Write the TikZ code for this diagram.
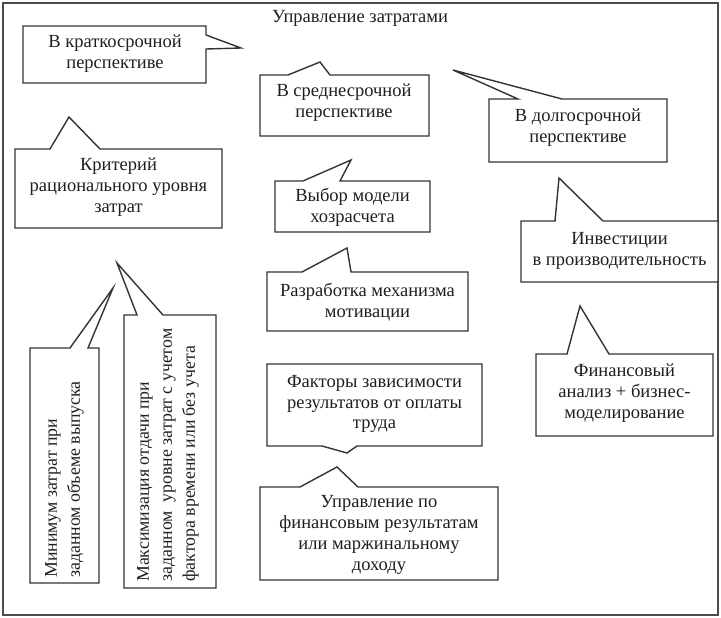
\documentclass[tikz,border=0pt]{standalone}
\usepackage{fontspec}
\setmainfont{Liberation Serif}
\begin{document}
\begin{tikzpicture}[x=1pt,y=-1pt,
  shp/.style={draw=black!80,line width=1.4pt,line join=miter,fill=white},
  txt/.style={text=black!88,align=center,inner sep=0pt,font=\fontsize{18.5}{20.8}\selectfont},
  vtxt/.style={text=black!88,align=left,inner sep=0pt,rotate=90,anchor=west,font=\fontsize{17.8}{23}\selectfont}]
\useasboundingbox (0,0) rectangle (721,618);
\fill[white] (0,0) rectangle (721,618);
\draw[black!70,line width=1.6pt] (3,3) rectangle (718,615);

\node[txt] (title) at (360,18) {Управление затратами};

% callout outlines
\draw[shp] (23,26) -- (206,26) -- (206,35) -- (241,48) -- (206,49) -- (206,83) -- (23,83) -- cycle;
\draw[shp] (260,75) -- (288,75) -- (320,62) -- (330,75) -- (429,75) -- (429,136) -- (260,136) -- cycle;
\draw[shp] (489,99) -- (518,99) -- (453,70) -- (562,99) -- (667,99) -- (667,162) -- (489,162) -- cycle;
\draw[shp] (15,149) -- (50,149) -- (69,117) -- (100,149) -- (222,149) -- (222,228) -- (15,228) -- cycle;
\draw[shp] (275,181) -- (303,181) -- (351,160) -- (340,181) -- (430,181) -- (430,232) -- (275,232) -- cycle;
\draw[shp] (267,272) -- (302,272) -- (347,248) -- (351,272) -- (468,272) -- (468,331) -- (267,331) -- cycle;
\draw[shp] (267,364) -- (482,364) -- (482,446) -- (357,446) -- (347,453) -- (322,446) -- (267,446) -- cycle;
\draw[shp] (260,487) -- (300,487) -- (337,467) -- (358,487) -- (498,487) -- (498,580) -- (260,580) -- cycle;
\draw[shp] (521,221) -- (555,221) -- (559,178) -- (603,221) -- (718,221) -- (718,282) -- (521,282) -- cycle;
\draw[shp] (536,354) -- (567,354) -- (580,306) -- (609,354) -- (713,354) -- (713,436) -- (536,436) -- cycle;
\draw[shp] (30,348) -- (70,348) -- (113,288) -- (88,348) -- (99,348) -- (99,583) -- (30,583) -- cycle;
\draw[shp] (124,315) -- (137,315) -- (117,263) -- (163,315) -- (216,315) -- (216,588) -- (124,588) -- cycle;

% texts
\node[txt] (t1) at (115,54) {В краткосрочной\\перспективе};
\node[txt] (t2) at (344,103) {В среднесрочной\\перспективе};
\node[txt] (t3) at (578,128) {В долгосрочной\\перспективе};
\node[txt] (t4) at (118.5,187) {Критерий\\рационального уровня\\затрат};
\node[txt] (t5) at (352.5,207) {Выбор модели\\хозрасчета};
\node[txt] (t6) at (367.5,302) {Разработка механизма\\мотивации};
\node[txt] (t7) at (374.5,404) {Факторы зависимости\\результатов от оплаты\\труда};
\node[txt] (t8) at (379,535) {Управление по\\финансовым результатам\\или маржинальному\\доходу};
\node[txt] (t9) at (619.5,251) {Инвестиции\\в производительность};
\node[txt] (t10) at (624.5,393) {Финансовый\\анализ + бизнес-\\моделирование};
\node[vtxt] (t11) at (64.5,578) {Минимум затрат при\\заданном объеме выпуска};
\node[vtxt] (t12) at (168,582) {Максимизация отдачи при\\заданном\ \ уровне затрат с учетом\\фактора времени или без учета};
\end{tikzpicture}
\end{document}
